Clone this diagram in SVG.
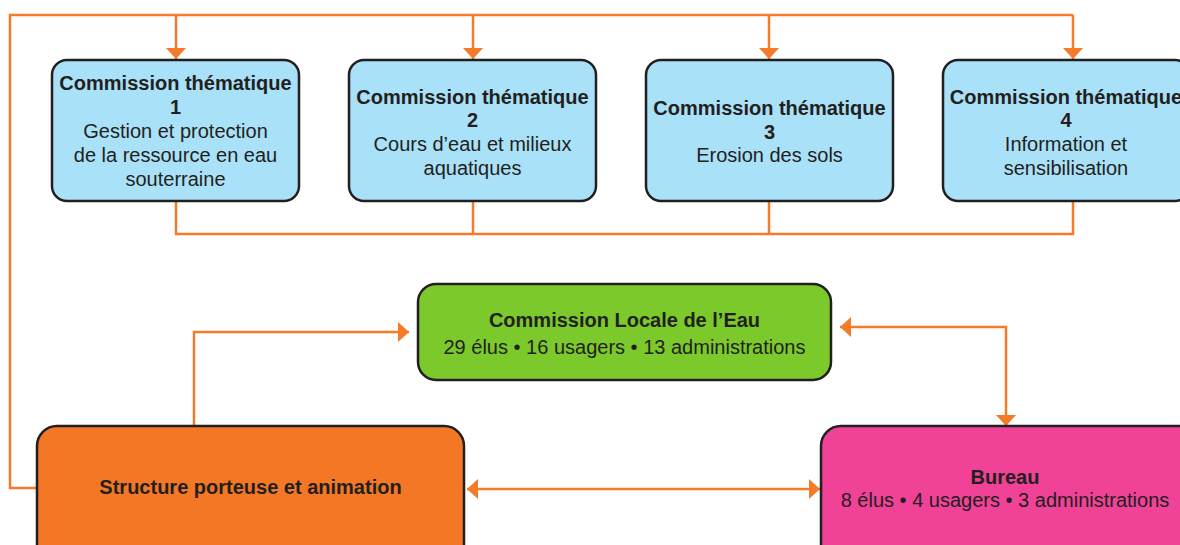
<svg xmlns="http://www.w3.org/2000/svg" width="1180" height="545" viewBox="0 0 1180 545">
<style>
.box{stroke:#231F20;stroke-width:2.5}
.ct{fill:#A9E1F8}
.t{font-family:"Liberation Sans",Arial,Helvetica,sans-serif;font-size:20px;fill:#231F20;text-anchor:middle}
.b{font-weight:bold}
.c{fill:none;stroke:#F47B29;stroke-width:2.5}
</style>
<defs>
<marker id="ah" viewBox="0 0 11 20" refX="11" refY="10" markerWidth="11" markerHeight="20" markerUnits="userSpaceOnUse" orient="auto-start-reverse">
<path d="M0,0 L11,10 L0,20 Z" fill="#F47B29"/>
</marker>
</defs>
<g id="connectors">
<path class="c" d="M37,488 H10 V15 H1073"/>
<path class="c" d="M176,15 V59" marker-end="url(#ah)"/>
<path class="c" d="M473,15 V59" marker-end="url(#ah)"/>
<path class="c" d="M769,15 V59" marker-end="url(#ah)"/>
<path class="c" d="M1073,15 V59" marker-end="url(#ah)"/>
<path class="c" d="M176,201 V234 H1073 V201 M473,201 V234 M769,201 V234"/>
<path class="c" d="M194,425 V332 H409" marker-end="url(#ah)"/>
<path class="c" d="M840,327 H1006 V426" marker-start="url(#ah)" marker-end="url(#ah)"/>
<path class="c" d="M467,489 H820" marker-start="url(#ah)" marker-end="url(#ah)"/>
</g>
<g id="ct1">
<rect class="box ct" x="52" y="60" width="247" height="141" rx="15"/>
<text class="t b" x="175.5" y="90">Commission thématique</text>
<text class="t b" x="175.5" y="114">1</text>
<text class="t" x="175.5" y="138">Gestion et protection</text>
<text class="t" x="175.5" y="162">de la ressource en eau</text>
<text class="t" x="175.5" y="186">souterraine</text>
</g>
<g id="ct2">
<rect class="box ct" x="349" y="60" width="247" height="141" rx="15"/>
<text class="t b" x="472.5" y="104">Commission thématique</text>
<text class="t b" x="472.5" y="127">2</text>
<text class="t" x="472.5" y="151">Cours d’eau et milieux</text>
<text class="t" x="472.5" y="175">aquatiques</text>
</g>
<g id="ct3">
<rect class="box ct" x="646" y="60" width="247" height="141" rx="15"/>
<text class="t b" x="769.5" y="115">Commission thématique</text>
<text class="t b" x="769.5" y="139">3</text>
<text class="t" x="769.5" y="162">Erosion des sols</text>
</g>
<g id="ct4">
<rect class="box ct" x="943" y="60" width="247" height="141" rx="15"/>
<text class="t b" x="1066" y="104">Commission thématique</text>
<text class="t b" x="1066" y="127">4</text>
<text class="t" x="1066" y="151">Information et</text>
<text class="t" x="1066" y="175">sensibilisation</text>
</g>
<g id="cle">
<rect class="box" x="418" y="284" width="413" height="96" rx="18" fill="#7BC92A"/>
<text class="t b" x="624.5" y="327">Commission Locale de l’Eau</text>
<text class="t" x="624.5" y="354">29 élus • 16 usagers • 13 administrations</text>
</g>
<g id="structure">
<rect class="box" x="37" y="426" width="427" height="140" rx="20" fill="#F47725"/>
<text class="t b" x="250.5" y="494">Structure porteuse et animation</text>
</g>
<g id="bureau">
<rect class="box" x="821" y="426" width="380" height="140" rx="20" fill="#F04296"/>
<text class="t b" x="1005" y="484">Bureau</text>
<text class="t" x="1005" y="507">8 élus • 4 usagers • 3 administrations</text>
</g>
</svg>
